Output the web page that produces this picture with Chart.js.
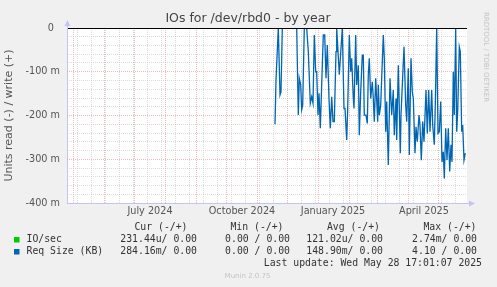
<!DOCTYPE html>
<html>
<head>
<meta charset="utf-8">
<script src="https://cdn.jsdelivr.net/npm/chart.js@4/dist/chart.umd.min.js"></script>
<style>
  html, body { margin: 0; padding: 0; background: #f0f0f0; }
</style>
</head>
<body>
<canvas id="myChart" width="497" height="287"></canvas>
<script>
// x = days since 2024-04-25, y = read side in milli units (drawn negative)
const readDays = [
  208, 209, 211.3, 213, 214, 215.3, 229.7, 231.3, 232.3, 233.7,
  234.7, 235.7, 237.3, 239.7, 241.3, 243.3, 244.7, 246, 247.3, 248.7,
  249.7, 251, 252, 253.3, 255, 256.3, 257.7, 259, 260.3, 262,
  263.3, 264.7, 266, 267.3, 269, 269.7, 272.3, 275.3, 277, 278,
  279.7, 280.7, 282.3, 283.7, 284.7, 286.3, 287, 288.7, 289.7, 291.3,
  292.3, 293.7, 295.3, 296.3, 297.3, 299, 300.3, 301.3, 302.3, 303.7,
  305.3, 306.3, 307.3, 308.7, 310.7, 311.3, 312.3, 313.7, 316.3, 317.3,
  318.7, 319.7, 321.3, 323, 324.7, 326.3, 327.3, 329, 329.7, 331.3,
  333.3, 334, 337, 338.7, 339.7, 341.3, 342.3, 344, 345.3, 346.3,
  348, 349, 350.3, 352, 353, 354.3, 355.7, 357, 359, 360.3,
  361.7, 363, 364.7, 365.7, 367.3, 368.3, 369.7, 371, 372.3, 373.7,
  375, 376.3, 377.3, 378.7, 380, 381.3, 382.7, 384, 385, 386.3,
  387.3, 388.7, 389.7, 390.7, 392.3, 393.3, 394.7, 395.7, 397, 398.3
];
const reqSizeRead = [
  -220, -119, 0, -153, -146, 0, 0, -199, -115, -130,
  -187, -176, 0, 0, -54, -172, -157, -172, -16, -100,
  -100, -199, -149, -229, -107, -16, -16, -115, -39, -161,
  -229, -157, -214, -214, -54, 0, -107, 0, -184, -184,
  -256, -184, -16, -100, -69, -161, -184, -16, -130, -85,
  -245, -146, -62, -62, -199, -199, -218, -107, -69, -161,
  -123, -161, -214, -115, -214, -130, -199, -176, -16, -69,
  -237, -168, -313, -115, -199, -142, -245, -161, -256, -85,
  -286, -199, -43, -176, -214, -92, -290, -69, -146, -161,
  -286, -226, -260, -199, -222, -302, -214, -260, -142, -241,
  -142, -237, -142, -222, -267, -176, 0, -241, -237, -168,
  -306, -283, -344, -229, -302, -229, -328, -267, -306, -100,
  -199, 0, -237, -191, -43, -54, -237, -222, -302, -286
];
const axisLabels = ['July 2024', 'October 2024', 'January 2025', 'April 2025'];
const yTicks = [0, -20, -40, -60, -80, -100, -120, -140, -160, -180, -200,
  -220, -240, -260, -280, -300, -320, -340, -360, -380, -400];

const legendHead = ['Cur (-/+)', 'Min (-/+)', 'Avg (-/+)', 'Max (-/+)'];
const ioSec = ['231.44u/ 0.00', '0.00 / 0.00', '121.02u/ 0.00', '2.74m/ 0.00'];
const reqSize = ['284.16m/ 0.00', '0.00 / 0.00', '148.90m/ 0.00', '4.10 / 0.00'];

const start = Date.UTC(2024, 3, 25);
const dayOf = (y, m, d) => Math.round((Date.UTC(y, m, d) - start) / 86400000);

const monthDays = [];
for (let i = 0; i < 13; i++) monthDays.push(dayOf(2024, 4 + i, 1));
const minorDays = [];
for (let d = 10; d < 400; d += 14) if (!monthDays.includes(d)) minorDays.push(d);
const labelDays = [dayOf(2024, 6, 17), dayOf(2024, 9, 17), dayOf(2025, 0, 16), dayOf(2025, 3, 17)];

const red = 'rgba(230,120,120,0.5)';
const grey = 'rgba(190,190,190,0.55)';
const axisCol = '#c4c4f0';

Chart.defaults.font.family = 'DejaVu Sans';

const munin = {
  id: 'munin',
  beforeDraw(chart) {
    const {ctx, chartArea: a} = chart;
    ctx.save();
    ctx.fillStyle = '#f0f0f0';
    ctx.fillRect(0, 0, chart.width, chart.height);
    ctx.fillStyle = '#ffffff';
    ctx.fillRect(a.left, a.top, a.right - a.left, a.bottom - a.top);
    ctx.restore();
  },
  afterDatasetsDraw(chart) {
    const {ctx, chartArea: a} = chart;
    const y0 = chart.scales.y.getPixelForValue(0);
    ctx.save();
    // zero rule
    ctx.strokeStyle = '#000';
    ctx.lineWidth = 1;
    ctx.beginPath();
    ctx.moveTo(a.left, y0 + 0.5);
    ctx.lineTo(a.right, y0 + 0.5);
    ctx.stroke();
    // axes with arrows
    ctx.strokeStyle = axisCol;
    ctx.fillStyle = axisCol;
    ctx.beginPath();
    ctx.moveTo(a.left + 0.5, a.bottom);
    ctx.lineTo(a.left + 0.5, a.top - 4);
    ctx.moveTo(a.left, a.bottom + 0.5);
    ctx.lineTo(a.right + 3, a.bottom + 0.5);
    ctx.stroke();
    ctx.beginPath();
    ctx.moveTo(a.left - 2.5, a.top - 2);
    ctx.lineTo(a.left + 3.5, a.top - 2);
    ctx.lineTo(a.left + 0.5, a.top - 8);
    ctx.fill();
    ctx.beginPath();
    ctx.moveTo(a.right + 2, a.bottom - 2.5);
    ctx.lineTo(a.right + 2, a.bottom + 3.5);
    ctx.lineTo(a.right + 8, a.bottom + 0.5);
    ctx.fill();
    ctx.restore();
  },
  afterDraw(chart) {
    const {ctx} = chart;
    ctx.save();
    ctx.textBaseline = 'middle';
    // title
    ctx.fillStyle = '#444';
    ctx.font = '12.5px "DejaVu Sans"';
    ctx.textAlign = 'center';
    ctx.fillText('IOs for /dev/rbd0 - by year', 248, 19);
    // watermark
    ctx.fillStyle = '#c4c4c4';
    ctx.font = '7px "DejaVu Sans"';
    ctx.fillText('Munin 2.0.75', 247.5, 276);
    ctx.save();
    ctx.translate(485.5, 57);
    ctx.rotate(Math.PI / 2);
    ctx.fillText('RRDTOOL / TOBI OETIKER', 0, 0);
    ctx.restore();
    // legend table
    ctx.fillStyle = '#333';
    ctx.font = '9.8px "DejaVu Sans Mono"';
    ctx.textAlign = 'right';
    const headRight = [187.5, 283.5, 380, 476.5];
    const colRight = [197, 290, 383, 477];
    legendHead.forEach((t, i) => ctx.fillText(t, headRight[i], 227.5));
    ioSec.forEach((t, i) => ctx.fillText(t, colRight[i], 239.5));
    reqSize.forEach((t, i) => ctx.fillText(t, colRight[i], 251.5));
    ctx.fillText('Last update: Wed May 28 17:01:07 2025', 482, 263.5);
    ctx.textAlign = 'left';
    ctx.fillText('IO/sec', 26.5, 239.5);
    ctx.fillText('Req Size (KB)', 26.5, 251.5);
    ctx.fillStyle = '#00cc00';
    ctx.fillRect(14, 237, 5.5, 5.5);
    ctx.fillStyle = '#0066b3';
    ctx.fillRect(14, 249, 5.5, 5.5);
    ctx.restore();
  }
};

new Chart(document.getElementById('myChart'), {
  type: 'line',
  data: {
    datasets: [{
      label: 'Req Size (KB)',
      data: readDays.map((d, i) => ({x: d, y: reqSizeRead[i]})),
      borderColor: '#0066b3',
      borderWidth: 1.3,
      pointRadius: 0,
      tension: 0,
      fill: false
    }]
  },
  options: {
    responsive: false,
    animation: false,
    layout: { padding: { top: 28, right: 30, bottom: 0, left: 0 } },
    plugins: {
      legend: { display: false },
      tooltip: { enabled: false },
      title: { display: false }
    },
    scales: {
      x: {
        type: 'linear',
        min: 0,
        max: 400,
        afterFit: s => { s.height = 84; },
        afterBuildTicks: s => {
          const all = [...new Set([...monthDays, ...minorDays, ...labelDays])].sort((a, b) => a - b);
          s.ticks = all.map(v => ({value: v}));
        },
        ticks: {
          autoSkip: false,
          maxRotation: 0,
          minRotation: 0,
          padding: 3,
          color: '#555',
          font: { size: 9.7 },
          callback: v => {
            const i = labelDays.indexOf(v);
            return i >= 0 ? axisLabels[i] : '';
          }
        },
        grid: {
          drawTicks: false,
          lineWidth: 1,
          color: c => {
            const v = c.tick ? c.tick.value : null;
            if (monthDays.includes(v)) return red;
            if (minorDays.includes(v)) return grey;
            return 'rgba(0,0,0,0)';
          }
        },
        border: { display: false, dash: [1, 1] }
      },
      y: {
        min: -400,
        max: 0,
        afterFit: s => { s.width = 67; },
        afterBuildTicks: s => { s.ticks = yTicks.map(v => ({value: v})); },
        ticks: {
          autoSkip: false,
          padding: 7,
          color: '#555',
          font: { size: 9.7 },
          callback: v => v % 100 !== 0 ? '' : (v === 0 ? '0  ' : v + ' m')
        },
        grid: {
          drawTicks: false,
          lineWidth: 1,
          color: c => (c.tick && c.tick.value % 100 === 0) ? red : grey
        },
        border: { display: false, dash: [1, 1] },
        title: {
          display: true,
          text: 'Units read (-) / write (+)',
          color: '#555',
          font: { size: 11 },
          padding: { top: 3, bottom: 0 }
        }
      }
    }
  },
  plugins: [munin]
});
</script>
</body>
</html>
